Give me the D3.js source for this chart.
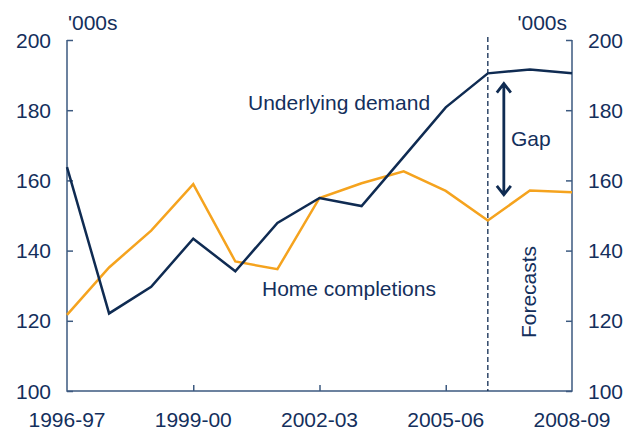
<!DOCTYPE html>
<html lang="en">
<head>
<meta charset="UTF-8">
<title>Underlying demand and home completions</title>
<script src="https://d3js.org/d3.v7.min.js"></script>
<style>
  body { margin: 0; background: #fff; }
  text { font-family: Arial, "Liberation Sans", sans-serif; fill: #142f5c; font-size: 21px; }
</style>
</head>
<body>
<script>
// Data ('000s per financial year)
const years = ["1996-97", "1997-98", "1998-99", "1999-00", "2000-01", "2001-02", "2002-03",
               "2003-04", "2004-05", "2005-06", "2006-07", "2007-08", "2008-09"];
const demand = [163.8, 122.1, 129.7, 143.4, 134.1, 147.9, 155.0, 152.7, 166.7, 180.8, 190.5, 191.6, 190.5];
const completions = [121.7, 135.2, 145.7, 158.9, 136.9, 134.7, 155.0, 159.2, 162.6, 157.0, 148.6, 157.1, 156.6];
const xTickLabels = ["1996-97", "1999-00", "2002-03", "2005-06", "2008-09"];
const yTicks = [100, 120, 140, 160, 180, 200];
const forecastStart = "2006-07";
const gapRange = [187.6, 155.9];

const width = 631, height = 432;
const margin = { top: 40, right: 59, bottom: 41, left: 67 };
const navy = "#0f2b52", orange = "#f5a31e", axisCol = "#3d5a80";

const svg = d3.select("body").append("svg")
    .attr("width", width)
    .attr("height", height);

const x = d3.scalePoint()
    .domain(years)
    .range([margin.left, width - margin.right]);

const y = d3.scaleLinear()
    .domain([100, 200])
    .range([height - margin.bottom, margin.top]);

// Axes
const left = svg.append("g")
    .attr("transform", "translate(" + margin.left + ",0)")
    .call(d3.axisRight(y).tickValues(yTicks).tickSize(6).tickFormat(""));
const right = svg.append("g")
    .attr("transform", "translate(" + (width - margin.right) + ",0)")
    .call(d3.axisLeft(y).tickValues(yTicks).tickSize(6).tickFormat(""));
const bottom = svg.append("g")
    .attr("transform", "translate(0," + (height - margin.bottom) + ")")
    .call(d3.axisTop(x).tickValues(xTickLabels.slice(1, -1)).tickSize(6).tickFormat(""));
[left, right, bottom].forEach(g => {
    g.selectAll("path, line").attr("stroke", axisCol).attr("stroke-width", 1.5);
    g.select(".domain").attr("d", null);
});
svg.append("path")
    .attr("d", "M" + margin.left + "," + y(200) + "V" + y(100) + "H" + (width - margin.right) + "V" + y(200))
    .attr("fill", "none")
    .attr("stroke", axisCol)
    .attr("stroke-width", 1.5);

// Tick labels
svg.selectAll(".ylab-l").data(yTicks).enter().append("text")
    .attr("x", margin.left - 16)
    .attr("y", d => y(d))
    .attr("dy", "0.36em")
    .attr("text-anchor", "end")
    .text(d => d);
svg.selectAll(".ylab-r").data(yTicks).enter().append("text")
    .attr("x", width - margin.right + 16)
    .attr("y", d => y(d))
    .attr("dy", "0.36em")
    .attr("text-anchor", "start")
    .text(d => d);
svg.selectAll(".xlab").data(xTickLabels).enter().append("text")
    .attr("x", d => x(d))
    .attr("y", height - 5)
    .attr("text-anchor", "middle")
    .text(d => d);

svg.append("text").attr("x", margin.left + 1).attr("y", 30).text("'000s");
svg.append("text").attr("x", width - margin.right - 5).attr("y", 30)
    .attr("text-anchor", "end").text("'000s");

// Forecast divider
svg.append("line")
    .attr("x1", x(forecastStart)).attr("x2", x(forecastStart))
    .attr("y1", margin.top - 3).attr("y2", y(100))
    .attr("stroke", navy).attr("stroke-width", 1.3)
    .attr("stroke-dasharray", "5,3");

// Series
const line = d3.line()
    .x((d, i) => x(years[i]))
    .y(d => y(d));
svg.append("path").datum(completions)
    .attr("d", line).attr("fill", "none")
    .attr("stroke", orange).attr("stroke-width", 2.5);
svg.append("path").datum(demand)
    .attr("d", line).attr("fill", "none")
    .attr("stroke", navy).attr("stroke-width", 2.5);

// Gap arrow
const ax = x(forecastStart) + 16;
const y1 = y(gapRange[0]), y2 = y(gapRange[1]);
svg.append("path")
    .attr("d", "M" + ax + "," + y1 + "V" + y2 +
        "M" + (ax - 7) + "," + (y1 + 9) + "L" + ax + "," + y1 + "L" + (ax + 7) + "," + (y1 + 9) +
        "M" + (ax - 7) + "," + (y2 - 9) + "L" + ax + "," + y2 + "L" + (ax + 7) + "," + (y2 - 9))
    .attr("fill", "none")
    .attr("stroke", navy)
    .attr("stroke-width", 2.8);

// Labels
svg.append("text").attr("x", 248).attr("y", 110).text("Underlying demand");
svg.append("text").attr("x", 262).attr("y", 296).text("Home completions");
svg.append("text").attr("x", 511).attr("y", 146).text("Gap");
svg.append("text")
    .attr("transform", "translate(536,292) rotate(-90)")
    .attr("text-anchor", "middle")
    .text("Forecasts");
</script>
</body>
</html>
